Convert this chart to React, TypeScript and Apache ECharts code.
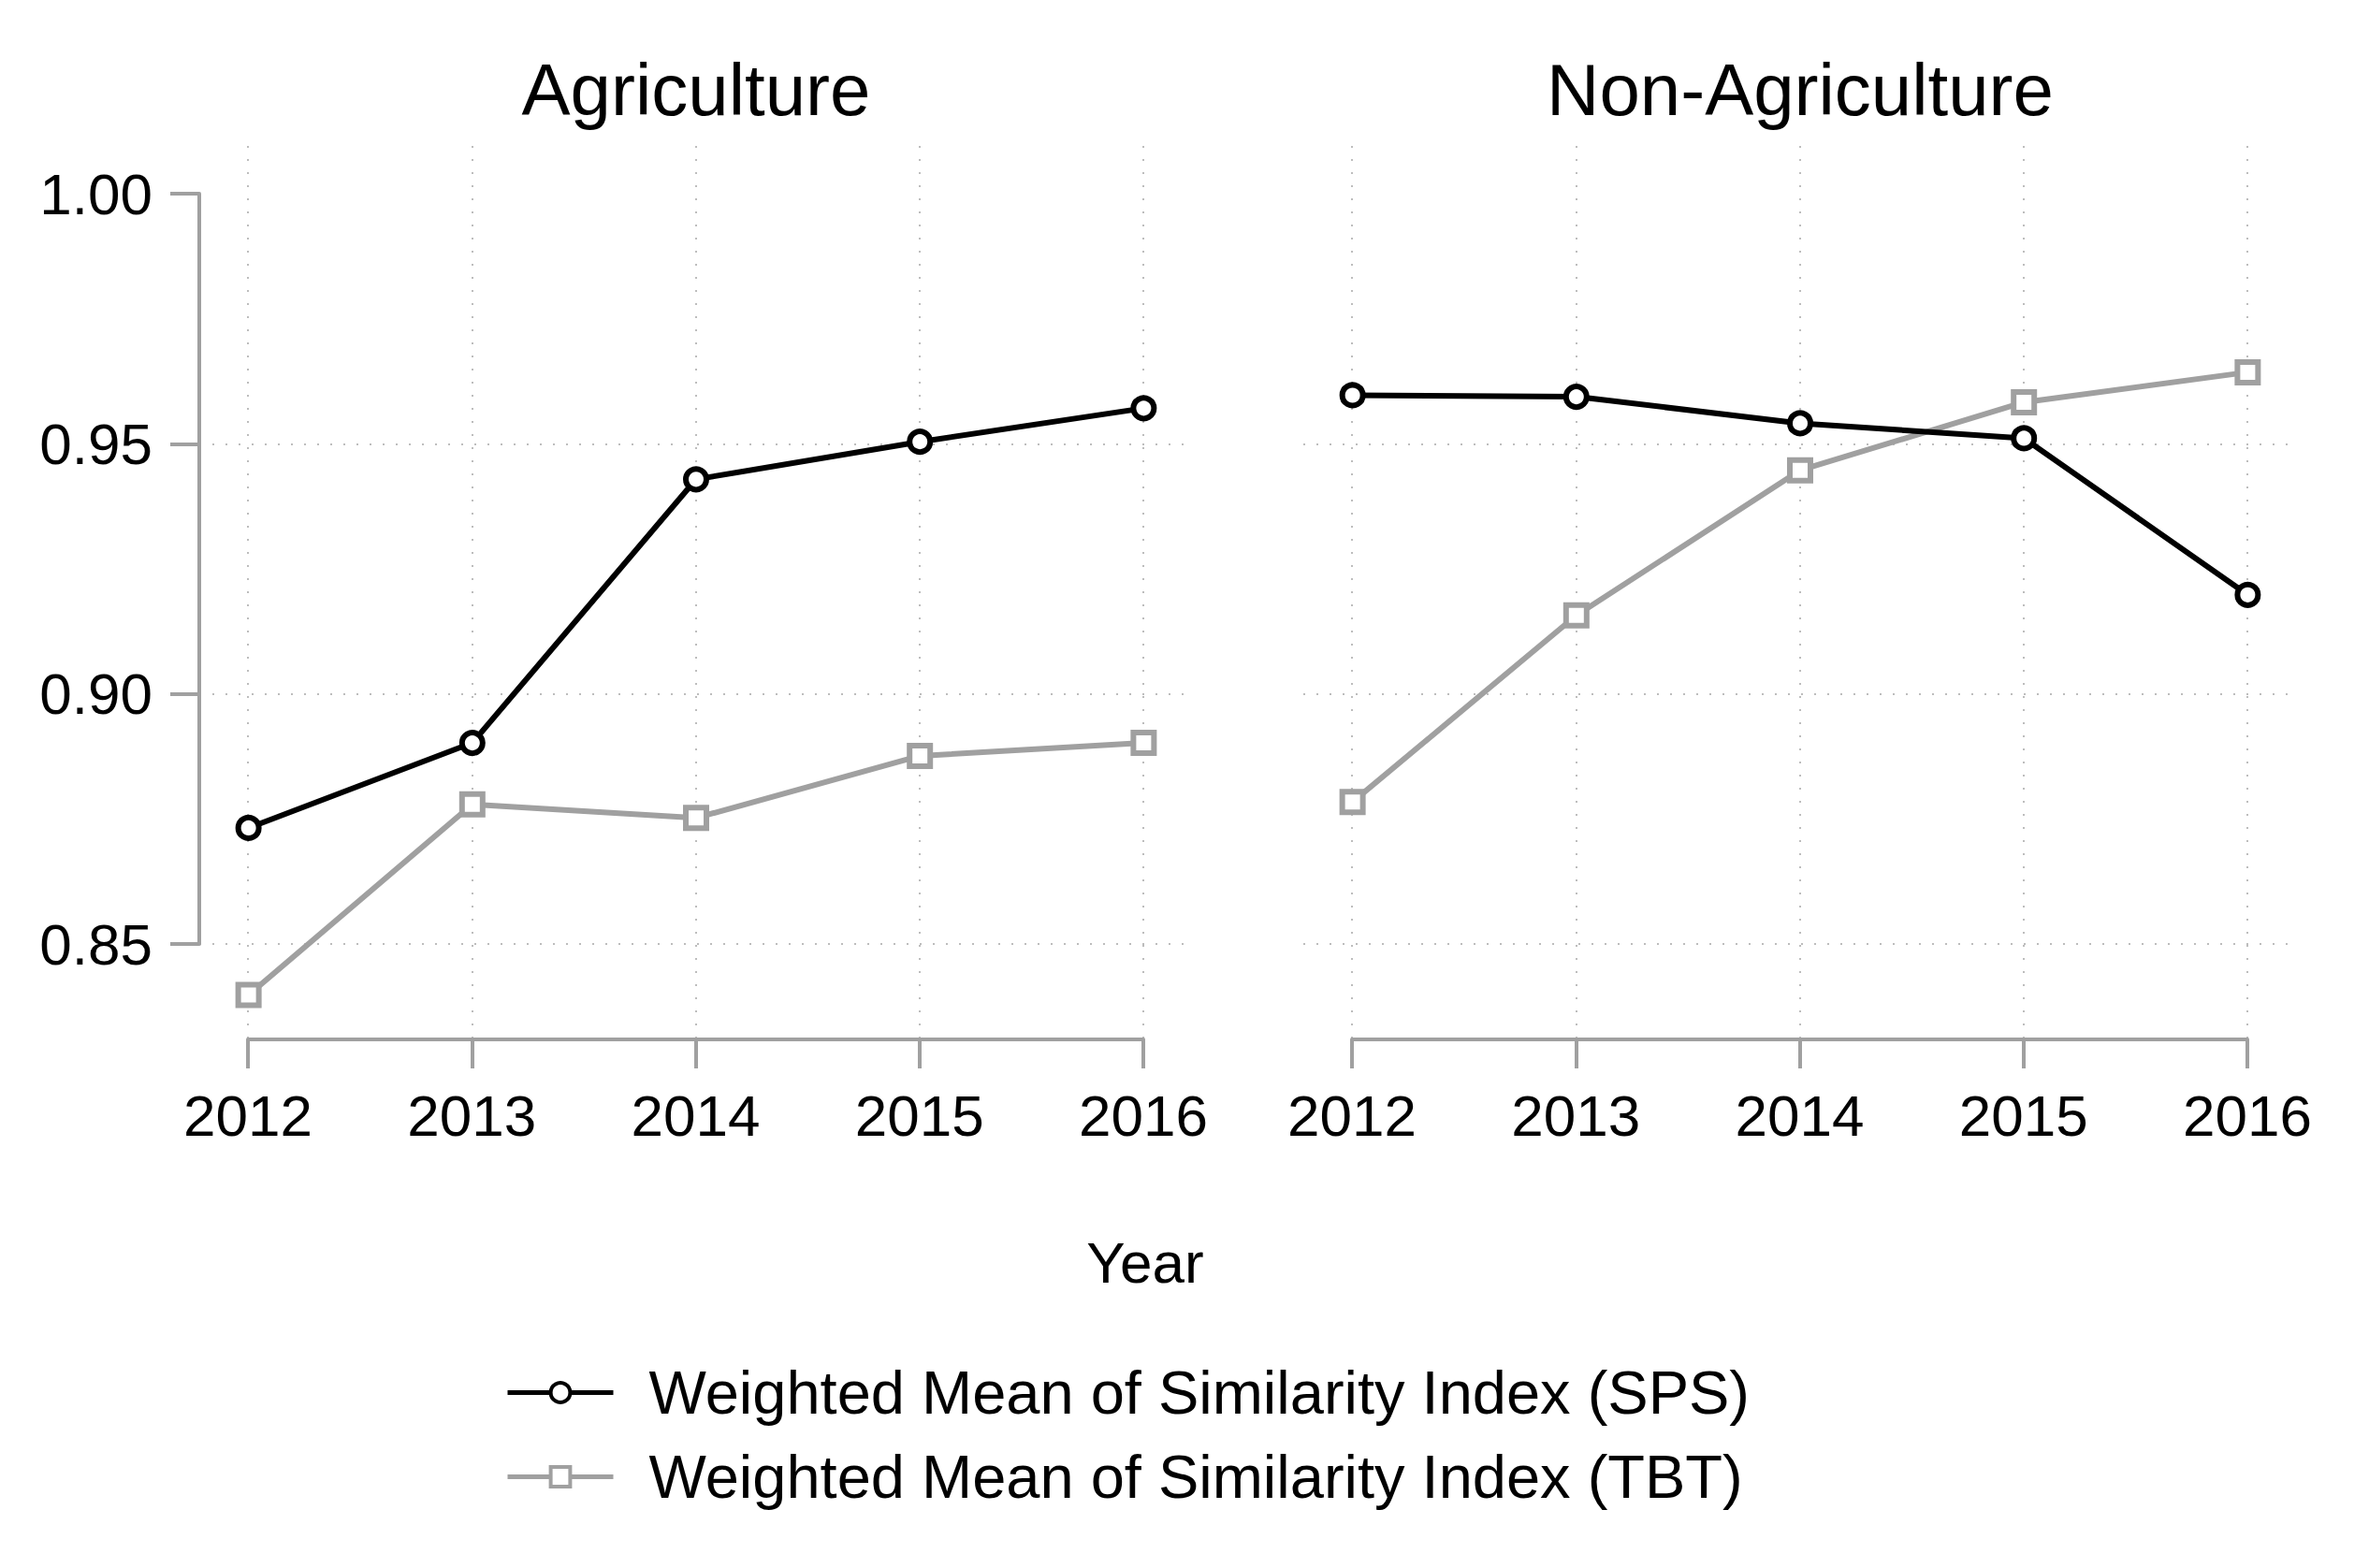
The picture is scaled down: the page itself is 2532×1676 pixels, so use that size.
import React, { useEffect, useRef } from "react";
import * as echarts from "echarts";

const years = [2012, 2013, 2014, 2015, 2016];
const agriSPS = [0.8732, 0.8902, 0.9429, 0.9504, 0.9571];
const agriTBT = [0.8398, 0.8779, 0.8752, 0.8876, 0.8902];
const nonAgriSPS = [0.9597, 0.9594, 0.9541, 0.9511, 0.9198];
const nonAgriTBT = [0.8784, 0.9157, 0.9447, 0.9583, 0.9643];

const panelTitles = ["Agriculture", "Non-Agriculture"];
const seriesNames = [
  "Weighted Mean of Similarity Index (SPS)",
  "Weighted Mean of Similarity Index (TBT)",
];
const xTitle = "Year";
const yMin = 0.85;
const yMax = 1.0;
const yStep = 0.05;
const xPadMin = 2011.78;
const xPadMax = 2016.22;

const FONT = "'Liberation Sans', Arial, Helvetica, sans-serif";
const BLACK = "#000000";
const GRAY = "#a0a0a0";
const AXIS = "#a0a0a0";
const GRID = "#bdbdbd";

function pairs(vals: number[]) {
  return years.map((y, i) => [y, vals[i]]);
}

export default function App() {
  const ref = useRef<HTMLDivElement>(null);
  useEffect(() => {
    if (!ref.current) return;
    const chart = echarts.init(ref.current, null, { renderer: "svg" });

    const dotted = { color: GRID, width: 2, type: [2, 12] as any };
    const tickLabel = { fontSize: 62, color: "#000", fontFamily: FONT };

    const plotGrid = (left: number) => ({ left, width: 1062, top: 207, height: 802 });
    const xGrid = (left: number) => ({ left, width: 957, top: 156, height: 955 });

    const hiddenX = (gi: number) => ({
      gridIndex: gi,
      type: "value",
      min: xPadMin,
      max: xPadMax,
      show: false,
    });
    const shownX = (gi: number) => ({
      gridIndex: gi,
      type: "value",
      min: years[0],
      max: years[years.length - 1],
      interval: 1,
      axisLine: { show: true, lineStyle: { color: AXIS, width: 4 } },
      axisTick: { show: true, length: 31, lineStyle: { color: AXIS, width: 4 } },
      axisLabel: { ...tickLabel, margin: 50, formatter: (v: number) => String(v) },
      splitLine: { show: true, lineStyle: dotted },
    });
    const plotY = (gi: number, withAxis: boolean) => ({
      gridIndex: gi,
      type: "value",
      min: yMin,
      max: yMax,
      interval: yStep,
      axisLine: { show: withAxis, lineStyle: { color: AXIS, width: 4 } },
      axisTick: { show: withAxis, length: 31, lineStyle: { color: AXIS, width: 4 } },
      axisLabel: {
        show: withAxis,
        ...tickLabel,
        margin: 50,
        formatter: (v: number) => v.toFixed(2),
      },
      splitLine: { show: true, showMaxLine: false, showMinLine: true, lineStyle: dotted },
    });
    const hiddenY = (gi: number) => ({ gridIndex: gi, type: "value", min: 0, max: 1, show: false });

    const mkSeries = (name: string, data: number[], axisIdx: number, sps: boolean) => ({
      name,
      type: "line",
      xAxisIndex: axisIdx,
      yAxisIndex: axisIdx,
      data: pairs(data),
      clip: false,
      symbol: sps ? "circle" : "rect",
      symbolSize: 22,
      lineStyle: { color: sps ? BLACK : GRAY, width: 6 },
      itemStyle: { color: "#ffffff", borderColor: sps ? BLACK : GRAY, borderWidth: 6 },
      z: sps ? 3 : 2,
    });

    chart.setOption({
      animation: false,
      backgroundColor: "#ffffff",
      textStyle: { fontFamily: FONT },
      grid: [plotGrid(213), xGrid(265), plotGrid(1393), xGrid(1445)],
      xAxis: [hiddenX(0), shownX(1), hiddenX(2), shownX(3)],
      yAxis: [plotY(0, true), hiddenY(1), plotY(2, false), hiddenY(3)],
      legend: {
        orient: "vertical",
        left: 535,
        top: 1451,
        itemWidth: 113,
        itemHeight: 26,
        itemGap: 25,
        lineStyle: { width: 5 },
        itemStyle: { borderWidth: 4 },
        textStyle: {
          fontSize: 65,
          lineHeight: 65,
          color: "#000",
          fontFamily: FONT,
          padding: [0, 0, 0, 33],
        },
        data: seriesNames,
      },
      series: [
        mkSeries(seriesNames[1], agriTBT, 0, false),
        mkSeries(seriesNames[0], agriSPS, 0, true),
        mkSeries(seriesNames[1], nonAgriTBT, 2, false),
        mkSeries(seriesNames[0], nonAgriSPS, 2, true),
      ],
      graphic: [
        {
          type: "text",
          x: 744,
          y: 96,
          style: {
            text: panelTitles[0],
            fontSize: 78,
            fontFamily: FONT,
            fill: "#000",
            textAlign: "center",
            textVerticalAlign: "middle",
          },
        },
        {
          type: "text",
          x: 1924,
          y: 96,
          style: {
            text: panelTitles[1],
            fontSize: 78,
            fontFamily: FONT,
            fill: "#000",
            textAlign: "center",
            textVerticalAlign: "middle",
          },
        },
        {
          type: "text",
          x: 1224,
          y: 1349,
          style: {
            text: xTitle,
            fontSize: 62,
            fontFamily: FONT,
            fill: "#000",
            textAlign: "center",
            textVerticalAlign: "middle",
          },
        },
      ],
    });
    return () => chart.dispose();
  }, []);
  return (
    <div
      ref={ref}
      style={{ position: "fixed", left: 0, top: 0, width: 2532, height: 1676, background: "#fff" }}
    />
  );
}
